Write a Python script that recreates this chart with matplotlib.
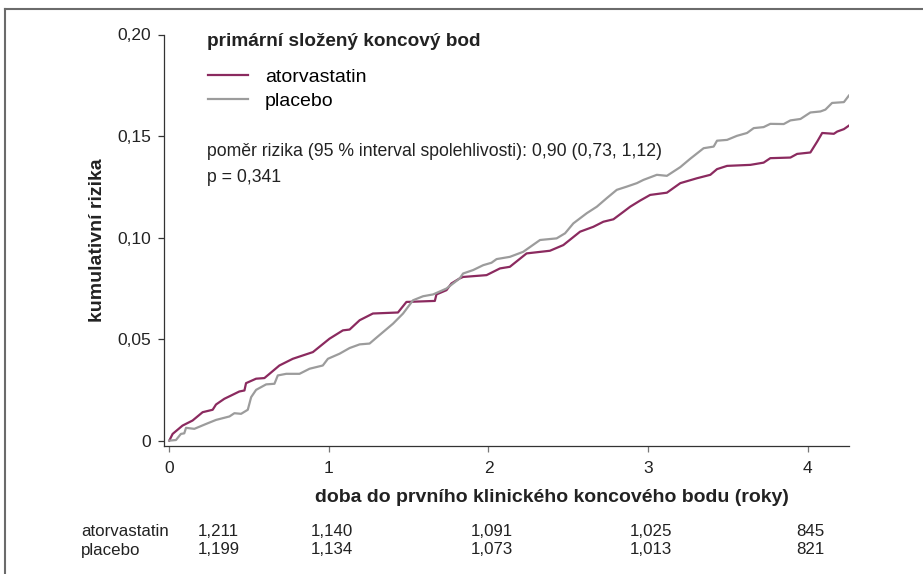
import matplotlib.pyplot as plt
from matplotlib.lines import Line2D
from matplotlib import transforms

plt.rcParams['font.family'] = ['Liberation Sans', 'DejaVu Sans']

# cumulative risk curves (years, risk)
atorva_t = [0, 0.021, 0.083, 0.146, 0.209, 0.272, 0.293, 0.345, 0.387, 0.439, 0.471,
            0.481, 0.544, 0.596, 0.628, 0.69, 0.774, 0.9, 1.004, 1.088, 1.13, 1.193,
            1.276, 1.433, 1.486, 1.664, 1.674, 1.737, 1.768, 1.82, 1.841, 1.988, 2.072,
            2.134, 2.239, 2.385, 2.469, 2.574, 2.657, 2.72, 2.783, 2.846, 2.888, 2.95,
            3.013, 3.118, 3.202, 3.306, 3.39, 3.432, 3.495, 3.641, 3.724, 3.766, 3.892,
            3.934, 4.017, 4.06, 4.091, 4.164, 4.185, 4.227, 4.258]
atorva_r = [0, 0.0033, 0.0074, 0.0099, 0.014, 0.0152, 0.0178, 0.0206, 0.0222, 0.0242, 0.0247,
            0.0283, 0.0305, 0.0308, 0.0329, 0.037, 0.0403, 0.0436, 0.0502, 0.0543, 0.0547, 0.0593,
            0.0626, 0.0631, 0.0683, 0.0688, 0.072, 0.0741, 0.0774, 0.0799, 0.0806, 0.0815, 0.0848,
            0.0856, 0.0922, 0.0935, 0.0963, 0.1029, 0.1053, 0.1078, 0.109, 0.1127, 0.1152, 0.1182,
            0.121, 0.1221, 0.1268, 0.1292, 0.1309, 0.1337, 0.1353, 0.1358, 0.1369, 0.1391, 0.1394,
            0.1412, 0.1419, 0.1473, 0.1515, 0.1511, 0.1522, 0.1534, 0.1551]

placebo_t = [0, 0.042, 0.073, 0.094, 0.105, 0.157, 0.23, 0.293, 0.377, 0.408, 0.45, 0.492,
             0.513, 0.544, 0.607, 0.659, 0.68, 0.733, 0.816, 0.879, 0.962, 0.994, 1.067,
             1.13, 1.193, 1.255, 1.298, 1.402, 1.465, 1.527, 1.59, 1.653, 1.737, 1.82, 1.841,
             1.904, 1.967, 2.019, 2.051, 2.134, 2.218, 2.323, 2.427, 2.48, 2.532, 2.616, 2.679,
             2.741, 2.804, 2.867, 2.93, 2.971, 3.055, 3.118, 3.202, 3.264, 3.348, 3.411, 3.432,
             3.495, 3.557, 3.62, 3.662, 3.724, 3.766, 3.85, 3.892, 3.955, 4.017, 4.08, 4.111,
             4.153, 4.227, 4.258]
placebo_r = [0, 0.0003, 0.0033, 0.0036, 0.0063, 0.0058, 0.0082, 0.0102, 0.0119, 0.0135, 0.0132, 0.0152,
             0.0214, 0.025, 0.0277, 0.028, 0.0321, 0.0329, 0.0329, 0.0354, 0.037, 0.0403, 0.0428,
             0.0456, 0.0474, 0.0478, 0.0507, 0.0576, 0.0626, 0.0691, 0.0711, 0.072, 0.0749, 0.0799, 0.0823,
             0.084, 0.0864, 0.0876, 0.0894, 0.0905, 0.093, 0.0988, 0.0996, 0.1021, 0.107, 0.112, 0.1152,
             0.1194, 0.1235, 0.1251, 0.1268, 0.1284, 0.1309, 0.1304, 0.1347, 0.1388, 0.144, 0.1448, 0.1477,
             0.1481, 0.1501, 0.1515, 0.1539, 0.1544, 0.156, 0.1559, 0.1577, 0.1584, 0.1616, 0.1621, 0.163,
             0.1663, 0.1667, 0.1699]

xticks = [0, 1, 2, 3, 4]
yticks = [0, 0.05, 0.10, 0.15, 0.20]
ytick_labels = ['0', '0,05', '0,10', '0,15', '0,20']

# numbers at risk
risk_groups = ['atorvastatin', 'placebo']
risk_atorva = ['1,211', '1,140', '1,091', '1,025', '845']
risk_placebo = ['1,199', '1,134', '1,073', '1,013', '821']
risk_pos = [0.31, 1.02, 2.02, 3.02, 4.02]

W, H = 923, 574
PURPLE = '#8b2a5f'
GRAY = '#9c9c9c'


def fx(px):
    return px / W


def fy(py):
    return 1 - py / H


fig = plt.figure(figsize=(W / 100, H / 100), dpi=100)
ax = fig.add_axes([fx(164), fy(445.5), (849 - 164) / W, (445.5 - 34.5) / H])

ax.plot(atorva_t, atorva_r, color=PURPLE, lw=1.6, label='atorvastatin', solid_joinstyle='round')
ax.plot(placebo_t, placebo_r, color=GRAY, lw=1.6, label='placebo', solid_joinstyle='round')

ax.set_xlim(-0.033, 4.259)
ax.set_ylim(-0.0024, 0.2)
ax.set_xticks(xticks)
ax.set_xticklabels([str(x) for x in xticks])
ax.set_yticks(yticks)
ax.set_yticklabels(ytick_labels)
for s in ['top', 'right']:
    ax.spines[s].set_visible(False)
for s in ['left', 'bottom']:
    ax.spines[s].set_linewidth(0.9)
    ax.spines[s].set_color('#333333')
ax.tick_params(axis='x', length=4.5, width=0.9, color='#777777', pad=7, labelsize=12.5, labelcolor='#222222')
ax.tick_params(axis='y', length=4, width=0.9, color='#333333', pad=5, labelsize=12.5, labelcolor='#222222')

fig.text(fx(97), fy(240), 'kumulativní rizika', rotation=90, ha='center', va='center',
         fontsize=14, fontweight='bold', color='#222222')
fig.text(fx(552), fy(497), 'doba do prvního klinického koncového bodu (roky)', ha='center', va='center',
         fontsize=14, fontweight='bold', color='#222222')

# legend block
fig.text(fx(207), fy(42), 'primární složený koncový bod', ha='left', va='center',
         fontsize=13.7, fontweight='bold', color='#222222')
ax.legend(loc='upper left', bbox_to_anchor=(fx(208), fy(68)), bbox_transform=fig.transFigure,
          frameon=False, fontsize=14, borderpad=0, borderaxespad=0, handlelength=2.06,
          handletextpad=0.87, labelspacing=0.34)

fig.text(fx(207), fy(152), 'poměr rizika (95 % interval spolehlivosti): 0,90 (0,73, 1,12)',
         ha='left', va='center', fontsize=12.7, color='#222222')
fig.text(fx(207), fy(177), 'p = 0,341', ha='left', va='center', fontsize=12.7, color='#222222')

# numbers-at-risk table
trans = transforms.blended_transform_factory(ax.transData, fig.transFigure)
for row, (name, vals) in enumerate(zip(risk_groups, [risk_atorva, risk_placebo])):
    y = fy(531 + row * 19)
    fig.text(fx(81), y, name, ha='left', va='center', fontsize=12.2, color='#222222')
    for pos, v in zip(risk_pos, vals):
        ax.text(pos, y, v, transform=trans, ha='center', va='center', fontsize=12.2,
                color='#222222', clip_on=False)

# page frame (top and left edges only are visible)
fig.add_artist(Line2D([fx(5), fx(922)], [fy(9), fy(9)], color='#6b6b6b', lw=1.5))
fig.add_artist(Line2D([fx(5), fx(5)], [fy(9), 0], color='#6b6b6b', lw=1.5))

fig.savefig('out.png', dpi=100)
